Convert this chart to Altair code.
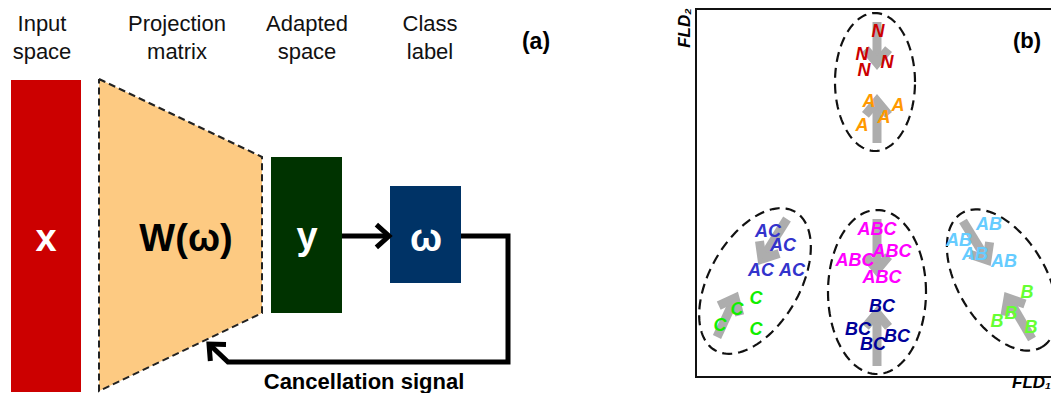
import altair as alt
import numpy as np
import pandas as pd

# ---------------- panel (a): block diagram ----------------
header_text = ["Input", "space", "Projection", "matrix", "Adapted", "space", "Class", "label"]
header_x = [42, 42, 177, 177, 307, 307, 430, 430]
header_y = [24, 52, 24, 52, 24, 52, 24, 52]

block_name = ["input", "adapted", "label"]
block_x1 = [11, 271, 390]
block_x2 = [81, 342, 461]
block_y1 = [80, 157, 186]
block_y2 = [392, 313, 283]
block_colors = ["#CC0000", "#003300", "#003366"]

block_text = ["x", "W(ω)", "y", "ω"]
block_text_x = [46, 186, 307, 426]
block_text_y = [240, 240, 238, 240]
block_text_kind = ["light", "dark", "light", "light"]

trap_x = [99, 262]
trap_top = [79, 157]
trap_bottom = [391, 313]

forward_x = [342, 389]
forward_y = [236, 236]
feedback_x = [461, 508, 508, 228, 209]
feedback_y = [236, 236, 362, 362, 344]

# ---------------- panel (b): FLD space ----------------
cluster_cx = [875, 755, 877, 1002]
cluster_cy = [82, 281, 292, 280]
cluster_a = [40, 80, 49, 78]
cluster_b = [69, 45, 82, 44]
cluster_angle = [0, 60, 0, -59]

classes = ["N", "A", "AC", "C", "ABC", "BC", "AB", "B"]
class_colors = ["#CC0000", "#FF9900", "#3333CC", "#11EE00", "#FF00FF", "#000099", "#66CCFF", "#66FF33"]

label_text = (["N"] * 4 + ["A"] * 4 + ["AC"] * 4 + ["C"] * 4 +
              ["ABC"] * 4 + ["BC"] * 4 + ["AB"] * 4 + ["B"] * 4)
label_x = [878, 862, 887, 864, 869, 898, 884, 862,
           768, 783, 761, 792, 756, 737, 720, 756,
           877, 892, 855, 882, 882, 858, 897, 873,
           989, 959, 975, 1004, 1027, 1011, 997, 1031]
label_y = [32, 55, 63, 71, 102, 106, 118, 126,
           232, 246, 271, 271, 299, 310, 326, 330,
           230, 252, 261, 278, 307, 330, 337, 345,
           225, 241, 255, 262, 293, 314, 322, 328]

shift_tail_x = [877, 877, 787, 717, 877, 877, 963, 1032]
shift_tail_y = [22, 143, 219, 337, 219, 366, 221, 339]
shift_tip_x = [877, 877, 762, 735, 877, 877, 987, 1008]
shift_tip_y = [63, 101, 259, 298, 270, 313, 260, 298]

frame_x = [1070, 696, 696, 1070]
frame_y = [9, 9, 377, 377]

# ---------------- helpers ----------------
XS = alt.Scale(domain=[8, 1051], nice=False, zero=False)
YS = alt.Scale(domain=[8, 393], nice=False, zero=False, reverse=True)


def X(f="x"):
    return alt.X(f + ":Q", scale=XS, axis=None)


def Y(f="y"):
    return alt.Y(f + ":Q", scale=YS, axis=None)


def polyline_rows(seg, xs, ys):
    return [{"seg": seg, "o": i, "x": float(a), "y": float(b)} for i, (a, b) in enumerate(zip(xs, ys))]


def arrow_rows(prefix, tail, tip, L, ang):
    tail = np.array(tail, float)
    tip = np.array(tip, float)
    d = (tail - tip) / np.linalg.norm(tail - tip)
    arms = []
    for s in (1, -1):
        t = np.radians(s * ang)
        r = np.array([d[0] * np.cos(t) - d[1] * np.sin(t), d[0] * np.sin(t) + d[1] * np.cos(t)])
        arms.append(tip + L * r)
    return polyline_rows(prefix + "_h", [arms[0][0], tip[0], arms[1][0]], [arms[0][1], tip[1], arms[1][1]])


def lines(rows, **kw):
    return alt.Chart(pd.DataFrame(rows)).mark_line(**kw).encode(
        x=X(), y=Y(), detail="seg:N", order="o:Q")


FONT = "Liberation Sans"

# ---------------- panel (a) layers ----------------
blocks = alt.Chart(pd.DataFrame({"name": block_name, "x": block_x1, "x2": block_x2,
                                 "y": block_y1, "y2": block_y2})).mark_rect().encode(
    x=X(), x2="x2", y=Y(), y2="y2",
    color=alt.Color("name:N", scale=alt.Scale(domain=block_name, range=block_colors), legend=None))

trap = alt.Chart(pd.DataFrame({"x": trap_x, "y": trap_top, "y2": trap_bottom})).mark_area(
    color="#FDCA82", orient="vertical").encode(x=X(), y=Y(), y2="y2")

trap_outline = lines(polyline_rows("t", trap_x + trap_x[::-1] + trap_x[:1],
                                   trap_top + trap_bottom[::-1] + trap_top[:1]),
                     color="#222222", strokeWidth=2, strokeDash=[7, 4])

btext = alt.Chart(pd.DataFrame({"t": block_text, "x": block_text_x, "y": block_text_y,
                                "k": block_text_kind})).mark_text(
    font=FONT, fontWeight="bold", fontSize=38, baseline="middle", align="center").encode(
    x=X(), y=Y(), text="t:N",
    color=alt.Color("k:N", scale=alt.Scale(domain=["light", "dark"], range=["#FFFFFF", "#000000"]), legend=None))

headers = alt.Chart(pd.DataFrame({"t": header_text, "x": header_x, "y": header_y})).mark_text(
    font=FONT, fontSize=22, color="#111111", baseline="middle", align="center").encode(
    x=X(), y=Y(), text="t:N")

black_rows = (polyline_rows("f", forward_x, forward_y) +
              arrow_rows("f", (forward_x[0], forward_y[0]), (forward_x[1], forward_y[1]), 17, 42) +
              polyline_rows("b", feedback_x, feedback_y) +
              arrow_rows("b", (feedback_x[-2], feedback_y[-2]), (feedback_x[-1], feedback_y[-1]), 17, 42))
black_arrows = lines(black_rows, color="#000000", strokeWidth=5, strokeJoin="miter", strokeCap="butt")

a_texts = alt.Chart(pd.DataFrame({"t": ["Cancellation signal", "(a)"], "x": [364, 536],
                                  "y": [382, 42], "s": [22, 23]})).mark_text(
    font=FONT, fontWeight="bold", baseline="middle", align="center", color="#000000").encode(
    x=X(), y=Y(), text="t:N", size=alt.Size("s:Q", scale=None))

# ---------------- panel (b) layers ----------------
frame = lines(polyline_rows("fr", frame_x, frame_y), color="#111111", strokeWidth=2)

ell_rows = []
for k in range(len(cluster_cx)):
    t = np.linspace(0, 2 * np.pi, 121)
    th = np.radians(cluster_angle[k])
    ex = cluster_cx[k] + cluster_a[k] * np.cos(t) * np.cos(th) - cluster_b[k] * np.sin(t) * np.sin(th)
    ey = cluster_cy[k] - (cluster_a[k] * np.cos(t) * np.sin(th) + cluster_b[k] * np.sin(t) * np.cos(th))
    ell_rows += polyline_rows("e%d" % k, ex, ey)
ellipses = lines(ell_rows, color="#111111", strokeWidth=2.2, strokeDash=[10, 6])

gray_rows = []
for k in range(len(shift_tail_x)):
    tail = (shift_tail_x[k], shift_tail_y[k])
    tip = (shift_tip_x[k], shift_tip_y[k])
    gray_rows += polyline_rows("g%d" % k, [tail[0], tip[0]], [tail[1], tip[1]])
    gray_rows += arrow_rows("g%d" % k, tail, tip, 18, 40)
gray_arrows = lines(gray_rows, color="#ADADAD", strokeWidth=9, strokeJoin="miter", strokeCap="butt")

labels = alt.Chart(pd.DataFrame({"t": label_text, "x": label_x, "y": label_y})).mark_text(
    font=FONT, fontWeight="bold", fontStyle="italic", fontSize=18, baseline="middle", align="center").encode(
    x=X(), y=Y(), text="t:N",
    color=alt.Color("t:N", scale=alt.Scale(domain=classes, range=class_colors), legend=None))

fld2 = alt.Chart(pd.DataFrame({"t": ["FLD₂"], "x": [685], "y": [28]})).mark_text(
    font=FONT, fontWeight="bold", fontStyle="italic", fontSize=17, angle=270,
    baseline="middle", align="center", color="#000000").encode(x=X(), y=Y(), text="t:N")
fld1 = alt.Chart(pd.DataFrame({"t": ["FLD₁"], "x": [1012], "y": [383]})).mark_text(
    font=FONT, fontWeight="bold", fontStyle="italic", fontSize=17,
    baseline="middle", align="left", color="#000000").encode(x=X(), y=Y(), text="t:N")
btag = alt.Chart(pd.DataFrame({"t": ["(b)"], "x": [1027], "y": [41]})).mark_text(
    font=FONT, fontWeight="bold", fontSize=22, baseline="middle", align="center", color="#000000").encode(
    x=X(), y=Y(), text="t:N")

chart = alt.layer(
    trap, trap_outline, blocks, btext, headers, black_arrows, a_texts,
    frame, ellipses, gray_arrows, labels, fld2, fld1, btag
).resolve_scale(color="independent").properties(
    width=1043, height=385, padding=0, autosize=alt.AutoSizeParams(type="none"),
    background="white"
).configure_view(stroke=None)

chart.save("out.html", embed_options={"renderer": "svg", "actions": False})
